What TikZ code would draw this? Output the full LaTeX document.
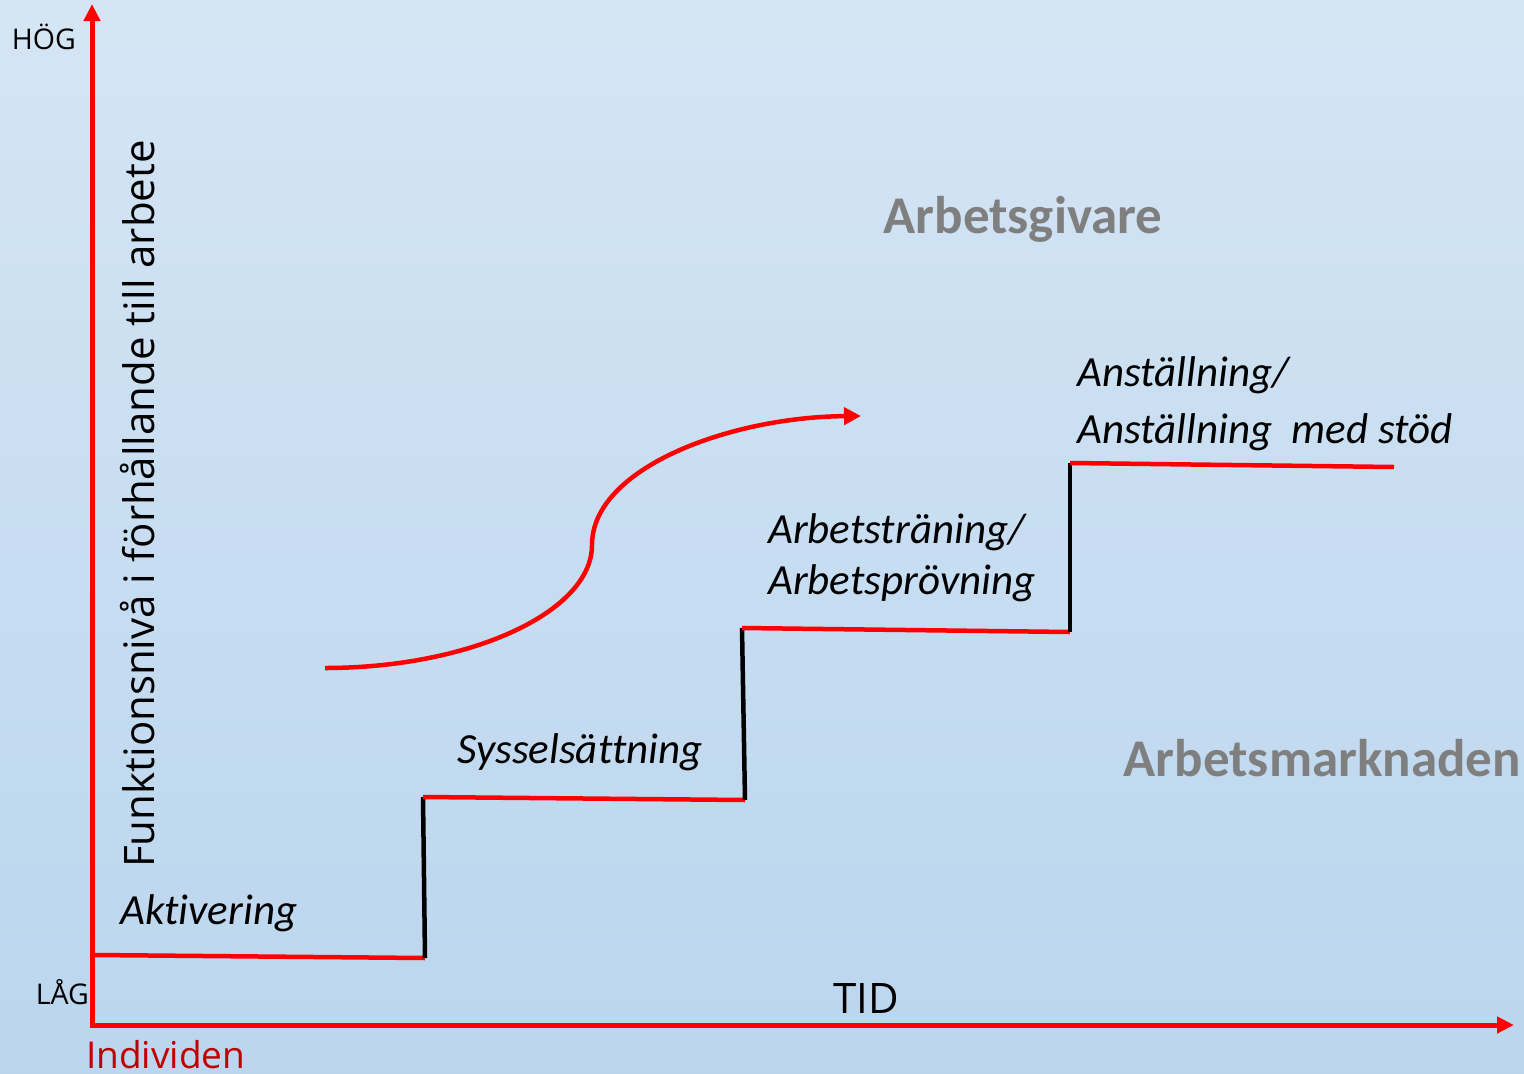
\documentclass[tikz,border=0pt]{standalone}
\usepackage{fontspec}
\setmainfont{Carlito}[Ligatures=NoCommon]
\newfontfamily\segoe{Open Sans}
\usetikzlibrary{arrows.meta}
\definecolor{bgtop}{HTML}{E2EDF8}
\definecolor{bgmid}{HTML}{B5D2EC}
\definecolor{bgbot}{HTML}{C3DAF0}
\definecolor{axred}{HTML}{FF0000}
\definecolor{indred}{HTML}{C00000}
\definecolor{labgray}{HTML}{7F7F7F}
\pgfdeclareverticalshading{bgshade}{100bp}{color(0bp)=(bgbot); color(14bp)=(bgmid); color(100bp)=(bgtop)}
\tikzset{
  redline/.style={draw=axred, line width=4.5pt},
  blackline/.style={draw=black, line width=4.5pt},
  axis/.style={draw=axred, line width=5pt, -{Triangle[length=17pt,width=16pt]}},
  steplabel/.style={font=\itshape\fontsize{43}{50}\selectfont, anchor=west, inner sep=0pt, text=black},
  biglabel/.style={font=\bfseries\fontsize{53}{62}\selectfont, text=labgray, inner sep=0pt},
  axlabel/.style={font=\segoe\fontsize{28.5}{32}\selectfont, inner sep=0pt, text=black}
}
\begin{document}
\begin{tikzpicture}[x=1pt,y=-1pt]
\useasboundingbox (0,0) rectangle (1524,1074);
\shade[shading=bgshade] (0,0) rectangle (1524,1074);
% axes
\coordinate (origin) at (92,1025);
\coordinate (ytip) at (92,4);
\coordinate (xtip) at (1514,1025);
\draw[axis] ([yshift=2.5pt]origin) -- (ytip);
\draw[axis] ([xshift=-2.5pt]origin) -- (xtip);
% steps
\coordinate (a0) at (94,955);
\coordinate (a1) at (425,958);
\coordinate (b0) at (423,797);
\coordinate (b1) at (745,800);
\coordinate (c0) at (742,628);
\coordinate (c1) at (1070,632);
\coordinate (d0) at (1070,463);
\coordinate (d1) at (1394,467);
\draw[redline] (a0) -- (a1);
\draw[blackline] (b0) -- (a1);
\draw[redline] (b0) -- (b1);
\draw[blackline] (c0) -- (b1);
\draw[redline] (c0) -- (c1);
\draw[blackline] (d0) -- (c1);
\draw[redline] (d0) -- (d1);
% S curve
\coordinate (cs) at (325,668);
\coordinate (cm) at (592,545);
\coordinate (ce) at (861,416);
\draw[draw=axred, line width=4.5pt, -{Triangle[length=17pt,width=17pt]}]
  (cs) .. controls (470,668) and (592,612) .. (cm)
       .. controls (592,468) and (730,417) .. (ce);
% labels
\node[axlabel, anchor=east] (hog) at (76,37) {HÖG};
\node[axlabel, anchor=east] (lag) at (89,992) {LÅG};
\node[font=\segoe\fontsize{42}{48}\selectfont, inner sep=0pt] (tid) at (866,998) {TID};
\node[font=\segoe\fontsize{37}{44}\selectfont, text=indred, inner sep=0pt, anchor=west] (ind) at (86,1055) {Individen};
\node[font=\segoe\fontsize{42}{48}\selectfont, rotate=90, inner sep=0pt] (ylab) at (138,504) {Funktionsnivå i förhållande till arbete};
\node[biglabel] (giv) at (1023,219) {Arbetsgivare};
\node[biglabel, anchor=east] (mark) at (1521,758) {Arbetsmarknaden};
\node[steplabel] (akt) at (120,913) {Aktivering};
\node[steplabel] (sys) at (457,752) {Sysselsättning};
\node[steplabel] (tr1) at (768,532) {Arbetsträning/};
\node[steplabel] (tr2) at (768,583) {Arbetsprövning};
\node[steplabel] (an1) at (1077,375) {Anställning/};
\node[steplabel] (an2) at (1077,432) {Anställning~~med stöd};
\end{tikzpicture}
\end{document}
